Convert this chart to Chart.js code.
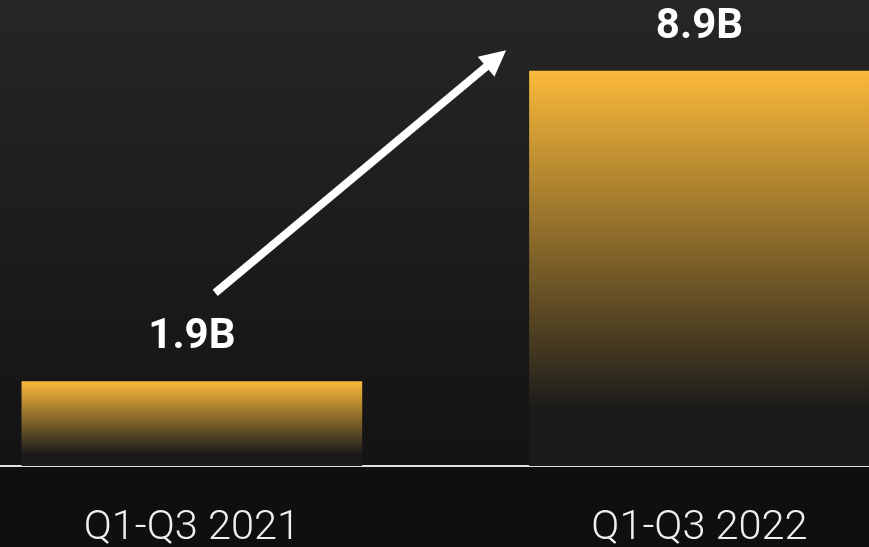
<!DOCTYPE html>
<html>
<head>
<meta charset="utf-8">
<script src="https://cdn.jsdelivr.net/npm/chart.js@4/dist/chart.umd.min.js"></script>
<style>
  html, body { margin: 0; padding: 0; background: #101010; }
  #wrap { width: 869px; height: 547px; position: relative; }
</style>
</head>
<body>
<div id="wrap"><canvas id="growthChart"></canvas></div>
<script>
const periodLabels = ['Q1-Q3 2021', 'Q1-Q3 2022'];
const periodPositions = [0, 1];
const revenueValues = [1.9, 8.9];
const valueLabels = ['1.9B', '8.9B'];

// growth arrow, in data units (x, y)
const arrowFrom = [0.046, 3.9];
const arrowTo = [0.619, 9.37];

const GOLD = '#fab93a';
const BAR_FADE = '#1a1a1a';

function barGradient(context) {
  const chart = context.chart;
  const { ctx, chartArea, scales } = chart;
  if (!chartArea || !scales.y) return GOLD;
  const top = scales.y.getPixelForValue(revenueValues[context.dataIndex]);
  const bottom = scales.y.getPixelForValue(0);
  const g = ctx.createLinearGradient(0, top, 0, bottom);
  g.addColorStop(0, GOLD);
  g.addColorStop(0.86, BAR_FADE);
  g.addColorStop(1, BAR_FADE);
  return g;
}

const backdrop = {
  id: 'backdrop',
  beforeDraw(chart) {
    const { ctx, chartArea, width, height } = chart;
    ctx.save();
    const g = ctx.createLinearGradient(0, 0, 0, chartArea.bottom);
    g.addColorStop(0, '#262626');
    g.addColorStop(1, '#131313');
    ctx.fillStyle = g;
    ctx.fillRect(0, 0, width, chartArea.bottom);
    ctx.fillStyle = '#0f0f0f';
    ctx.fillRect(0, chartArea.bottom, width, height - chartArea.bottom);
    ctx.restore();
  }
};

const annotations = {
  id: 'annotations',
  afterDatasetsDraw(chart) {
    const { ctx, scales } = chart;
    const meta = chart.getDatasetMeta(0);
    ctx.save();

    // value labels above each bar
    ctx.fillStyle = '#ffffff';
    ctx.font = 'bold 42px Roboto';
    ctx.textAlign = 'center';
    ctx.textBaseline = 'middle';
    meta.data.forEach((bar, i) => {
      ctx.fillText(valueLabels[i], bar.x, bar.y - 44);
    });

    // arrow between the bars
    const x1 = scales.x.getPixelForValue(arrowFrom[0]);
    const y1 = scales.y.getPixelForValue(arrowFrom[1]);
    const x2 = scales.x.getPixelForValue(arrowTo[0]);
    const y2 = scales.y.getPixelForValue(arrowTo[1]);
    const ang = Math.atan2(y2 - y1, x2 - x1);
    const headLen = 26;
    const headHalf = 13;
    const bx = x2 - headLen * Math.cos(ang);
    const by = y2 - headLen * Math.sin(ang);

    ctx.strokeStyle = '#ffffff';
    ctx.lineWidth = 8;
    ctx.lineCap = 'butt';
    ctx.beginPath();
    ctx.moveTo(x1, y1);
    ctx.lineTo(bx + 2 * Math.cos(ang), by + 2 * Math.sin(ang));
    ctx.stroke();

    ctx.beginPath();
    ctx.moveTo(x2, y2);
    ctx.lineTo(bx + headHalf * Math.sin(ang), by - headHalf * Math.cos(ang));
    ctx.lineTo(bx - headHalf * Math.sin(ang), by + headHalf * Math.cos(ang));
    ctx.closePath();
    ctx.fill();
    ctx.restore();
  }
};

new Chart(document.getElementById('growthChart'), {
  type: 'bar',
  data: {
    datasets: [{
      data: periodPositions.map((x, i) => ({ x, y: revenueValues[i] })),
      backgroundColor: barGradient,
      borderWidth: 0,
      barThickness: 340
    }]
  },
  options: {
    responsive: true,
    maintainAspectRatio: false,
    animation: false,
    layout: { padding: 0 },
    plugins: {
      legend: { display: false },
      tooltip: { enabled: false }
    },
    scales: {
      x: {
        type: 'linear',
        offset: false,
        min: -0.378,
        max: 1.334,
        grid: { display: false, drawTicks: false, offset: false },
        border: { display: true, color: '#e0e0e0', width: 2 },
        afterBuildTicks(scale) {
          scale.ticks = periodPositions.map(v => ({ value: v }));
        },
        afterFit(scale) {
          scale.height = 81;
        },
        ticks: {
          padding: 38,
          color: '#f0f0f0',
          font: { family: 'Roboto', size: 41.5, weight: '300' },
          callback: (value) => periodLabels[value]
        }
      },
      y: {
        display: false,
        min: 0,
        max: 10.5
      }
    }
  },
  plugins: [backdrop, annotations]
});
</script>
</body>
</html>
